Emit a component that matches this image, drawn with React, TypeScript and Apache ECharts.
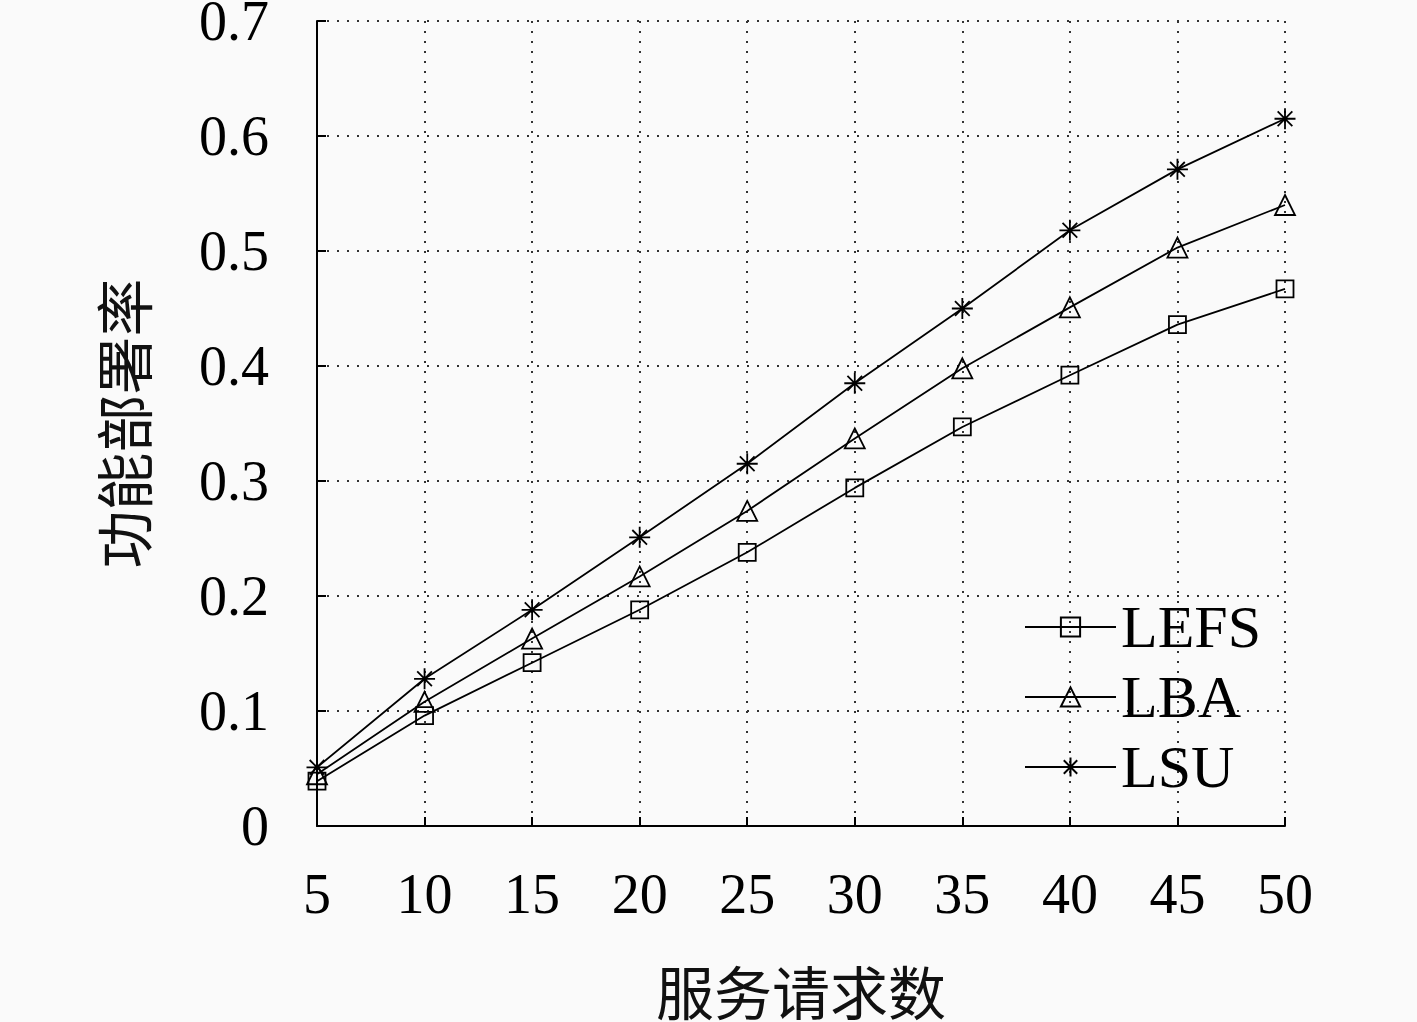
import React, { useEffect, useRef } from "react";
import * as echarts from "echarts";

const requests = [5, 10, 15, 20, 25, 30, 35, 40, 45, 50];
const lefs = [0.039, 0.096, 0.142, 0.188, 0.238, 0.294, 0.347, 0.392, 0.436, 0.467];
const lba = [0.045, 0.108, 0.163, 0.217, 0.274, 0.337, 0.398, 0.451, 0.503, 0.540];
const lsu = [0.051, 0.128, 0.188, 0.251, 0.315, 0.385, 0.450, 0.518, 0.571, 0.615];
const seriesNames = ["LEFS", "LBA", "LSU"];
const xName = "服务请求数";
const yName = "功能部署率";

const SERIF = "'Liberation Serif', 'DejaVu Serif', serif";
const CJK = "'Noto Sans CJK SC', 'Liberation Serif', sans-serif";
const STAR = "path://M0,-10 L0,10 M-10,0 L10,0 M-7,-7 L7,7 M-7,7 L7,-7";

export default function App() {
  const ref = useRef<HTMLDivElement>(null);
  useEffect(() => {
    document.body.style.margin = "0";
    const chart = echarts.init(ref.current!, undefined, { renderer: "svg" });
    const mk = (name: string, vals: number[], symbol: string, size: number) => ({
      name,
      type: "line",
      data: requests.map((x, i) => [x, vals[i]]),
      symbol,
      symbolSize: size,
      lineStyle: { color: "#000", width: 1.8 },
      itemStyle: { color: "transparent", borderColor: "#000", borderWidth: 1.8 },
      emphasis: { disabled: true },
      z: 3,
    });
    chart.setOption({
      animation: false,
      backgroundColor: "#fafafa",
      grid: { left: 317, right: 132, top: 21, bottom: 196, containLabel: false, outerBoundsMode: "none" },
      xAxis: {
        type: "value",
        min: 5,
        max: 50,
        interval: 5,
        name: xName,
        nameLocation: "middle",
        nameGap: 136,
        nameTextStyle: { fontFamily: CJK, fontSize: 58, lineHeight: 56, color: "#111" },
        axisLine: { lineStyle: { color: "#000", width: 2 } },
        axisTick: { inside: true, length: 9, lineStyle: { color: "#000", width: 2 } },
        axisLabel: { fontFamily: SERIF, fontSize: 56, color: "#000", margin: 40 },
        splitLine: { show: true, lineStyle: { type: [2, 8], color: "#333", width: 2 } },
      },
      yAxis: {
        type: "value",
        min: 0,
        max: 0.7,
        interval: 0.1,
        name: yName,
        nameLocation: "middle",
        nameGap: 166,
        nameRotate: 90,
        nameTextStyle: { fontFamily: CJK, fontSize: 58, color: "#111" },
        axisLine: { show: true, lineStyle: { color: "#000", width: 2 } },
        axisTick: { show: true, inside: true, length: 9, lineStyle: { color: "#000", width: 2 } },
        axisLabel: {
          fontFamily: SERIF,
          fontSize: 56,
          lineHeight: 34,
          padding: [6, 0, 0, 0],
          color: "#000",
          margin: 48,
        },
        splitLine: { show: true, lineStyle: { type: [2, 8], color: "#333", width: 2 } },
      },
      legend: {
        orient: "vertical",
        left: 1019,
        top: 592,
        itemWidth: 91,
        itemHeight: 24,
        itemGap: 10,
        data: seriesNames,
        textStyle: { fontFamily: SERIF, fontSize: 60, lineHeight: 60, color: "#000" },
      },
      series: [
        mk(seriesNames[0], lefs, "rect", 17),
        mk(seriesNames[1], lba, "triangle", 20),
        mk(seriesNames[2], lsu, STAR, 21),
      ],
    });
    return () => chart.dispose();
  }, []);
  return <div ref={ref} style={{ width: 1417, height: 1022 }} />;
}
